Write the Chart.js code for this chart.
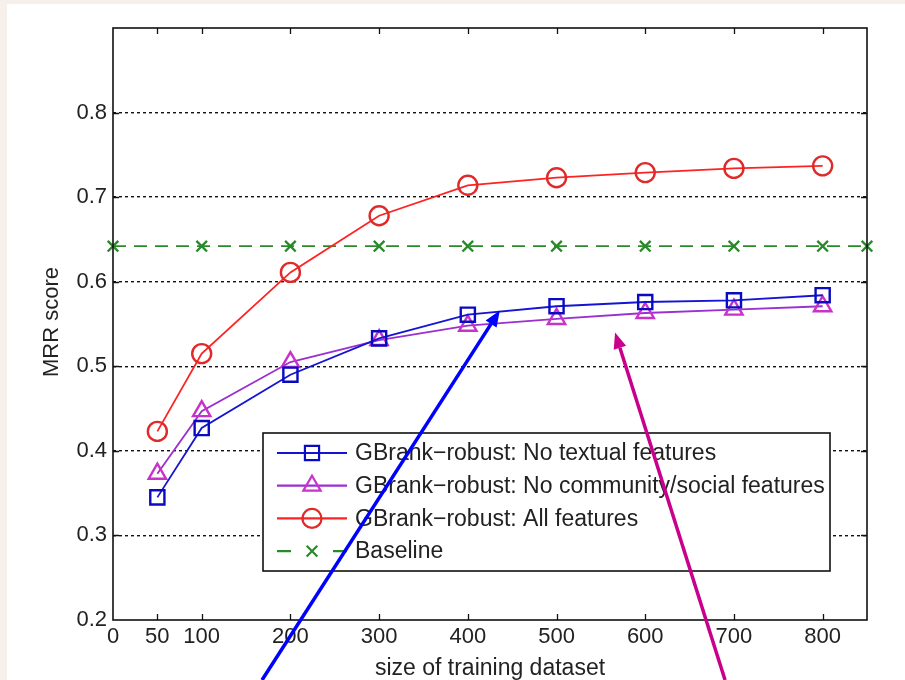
<!DOCTYPE html>
<html>
<head>
<meta charset="utf-8">
<script src="https://cdn.jsdelivr.net/npm/chart.js@4"></script>
<style>
  html, body { margin: 0; padding: 0; background: #f6efea; }
  canvas { display: block; }
</style>
</head>
<body>
<canvas id="mrrChart" width="905" height="680"></canvas>
<script>
// Data
const trainingSizes = [50, 100, 200, 300, 400, 500, 600, 700, 800];
const noTextual = [0.345, 0.427, 0.490, 0.533, 0.561, 0.571, 0.576, 0.578, 0.584];
const noCommunity = [0.373, 0.447, 0.505, 0.531, 0.548, 0.556, 0.563, 0.567, 0.571];
const allFeatures = [0.423, 0.515, 0.611, 0.678, 0.714, 0.723, 0.729, 0.734, 0.737];
const baselineSizes = [0, 100, 200, 300, 400, 500, 600, 700, 800, 850];
const baselineScores = [0.642, 0.642, 0.642, 0.642, 0.642, 0.642, 0.642, 0.642, 0.642, 0.642];
const xTickValues = [0, 50, 100, 200, 300, 400, 500, 600, 700, 800];
const yTickValues = [0.2, 0.3, 0.4, 0.5, 0.6, 0.7, 0.8];

const toPoints = (xs, ys) => xs.map((x, i) => ({ x: x, y: ys[i] }));

const series = [
    { label: 'GBrank\u2212robust: No textual features', data: toPoints(trainingSizes, noTextual),
      line: '#1414d2', marker: '#0a0ac0', style: 'rect', radius: 10, dash: [] },
    { label: 'GBrank\u2212robust: No community/social features', data: toPoints(trainingSizes, noCommunity),
      line: '#9b2fd0', marker: '#c832c8', style: 'triangle', radius: 10, dash: [] },
    { label: 'GBrank\u2212robust: All features', data: toPoints(trainingSizes, allFeatures),
      line: '#ff2222', marker: '#e02a2a', style: 'circle', radius: 9.5, dash: [] },
    { label: 'Baseline', data: toPoints(baselineSizes, baselineScores),
      line: '#2a8a2a', marker: '#2a8a2a', style: 'crossRot', radius: 7.5, dash: [13, 8] }
];

// Arrows pointing at the curves, given in data units
const arrows = [
    { from: [168, 0.129], to: [436, 0.566], color: '#0000ff' },
    { from: [690, 0.129], to: [566, 0.540], color: '#c8008c' }
];

const FONT = '"Liberation Sans", Arial, sans-serif';
const TEXT = '#222';

const framePlugin = {
    id: 'frame',
    beforeDraw(chart) {
        const ctx = chart.ctx;
        ctx.save();
        ctx.fillStyle = '#f6efea';
        ctx.fillRect(0, 0, chart.width, chart.height);
        ctx.fillStyle = '#ffffff';
        ctx.fillRect(7, 4, chart.width - 7, chart.height - 4);
        ctx.restore();
    },
    afterDatasetsDraw(chart) {
        const { ctx, chartArea: a, scales } = chart;
        ctx.save();
        // box and inward ticks
        ctx.strokeStyle = '#111';
        ctx.lineWidth = 1.6;
        ctx.strokeRect(a.left, a.top, a.right - a.left, a.bottom - a.top);
        ctx.lineWidth = 1.3;
        ctx.beginPath();
        xTickValues.slice(1).forEach(v => {
            const px = Math.round(scales.x.getPixelForValue(v)) + 0.5;
            ctx.moveTo(px, a.bottom); ctx.lineTo(px, a.bottom - 6);
            ctx.moveTo(px, a.top); ctx.lineTo(px, a.top + 6);
        });
        yTickValues.slice(1).forEach(v => {
            const py = Math.round(scales.y.getPixelForValue(v)) + 0.5;
            ctx.moveTo(a.left, py); ctx.lineTo(a.left + 6, py);
            ctx.moveTo(a.right, py); ctx.lineTo(a.right - 6, py);
        });
        ctx.stroke();

        // axis titles
        ctx.fillStyle = TEXT;
        ctx.font = '23px ' + FONT;
        ctx.textAlign = 'center';
        ctx.textBaseline = 'alphabetic';
        ctx.fillText('size of training dataset', (a.left + a.right) / 2, 675);
        ctx.save();
        ctx.translate(52, 322);
        ctx.rotate(-Math.PI / 2);
        ctx.font = '22px ' + FONT;
        ctx.textBaseline = 'middle';
        ctx.fillText('MRR score', 0, 0);
        ctx.restore();

        // legend
        const box = { left: 263, top: 433, right: 830, bottom: 571 };
        ctx.fillStyle = '#fff';
        ctx.fillRect(box.left, box.top, box.right - box.left, box.bottom - box.top);
        ctx.strokeStyle = '#111';
        ctx.lineWidth = 1.6;
        ctx.strokeRect(box.left, box.top, box.right - box.left, box.bottom - box.top);
        ctx.font = '23px ' + FONT;
        ctx.textAlign = 'left';
        ctx.textBaseline = 'middle';
        series.forEach((s, i) => {
            const y = box.top + 20 + i * 32.7;
            ctx.strokeStyle = s.line;
            ctx.lineWidth = 2.2;
            ctx.setLineDash(s.dash.length ? [14, 42] : []);
            ctx.beginPath();
            ctx.moveTo(277, y); ctx.lineTo(347, y);
            ctx.stroke();
            ctx.setLineDash([]);
            ctx.strokeStyle = s.marker;
            ctx.fillStyle = 'rgba(255,255,255,0)';
            Chart.helpers.drawPoint(ctx, { pointStyle: s.style, radius: s.radius, borderWidth: 2.4, rotation: 0 }, 312, y);
            ctx.fillStyle = TEXT;
            ctx.fillText(s.label, 355, y + 1);
        });

        // arrows
        arrows.forEach(ar => {
            const x1 = scales.x.getPixelForValue(ar.from[0]), y1 = scales.y.getPixelForValue(ar.from[1]);
            const x2 = scales.x.getPixelForValue(ar.to[0]), y2 = scales.y.getPixelForValue(ar.to[1]);
            const ang = Math.atan2(y2 - y1, x2 - x1);
            const head = 16, half = 6.5;
            const bx = x2 - head * Math.cos(ang), by = y2 - head * Math.sin(ang);
            ctx.strokeStyle = ar.color;
            ctx.fillStyle = ar.color;
            ctx.lineWidth = 3.5;
            ctx.beginPath();
            ctx.moveTo(x1, y1); ctx.lineTo(bx, by);
            ctx.stroke();
            ctx.beginPath();
            ctx.moveTo(x2, y2);
            ctx.lineTo(bx + half * Math.sin(ang), by - half * Math.cos(ang));
            ctx.lineTo(bx - half * Math.sin(ang), by + half * Math.cos(ang));
            ctx.closePath();
            ctx.fill();
        });
        ctx.restore();
    }
};

new Chart(document.getElementById('mrrChart'), {
    type: 'line',
    data: {
        datasets: series.map(s => ({
            label: s.label,
            data: s.data,
            borderColor: s.line,
            borderWidth: 1.8,
            borderDash: s.dash,
            pointStyle: s.style,
            pointRadius: s.radius,
            pointBorderColor: s.marker,
            pointBackgroundColor: 'rgba(255,255,255,0)',
            pointBorderWidth: 2.4,
            tension: 0,
            clip: false
        }))
    },
    options: {
        responsive: false,
        animation: false,
        layout: { padding: { top: 28, right: 38, left: 0, bottom: 0 } },
        plugins: { legend: { display: false }, tooltip: { enabled: false } },
        scales: {
            x: {
                type: 'linear',
                min: 0,
                max: 850,
                afterBuildTicks: scale => { scale.ticks = xTickValues.map(v => ({ value: v })); },
                afterFit: scale => { scale.height = 60; },
                grid: { display: false, drawTicks: false },
                border: { display: false },
                ticks: { color: TEXT, font: { family: FONT, size: 22 }, padding: 4, maxRotation: 0, autoSkip: false }
            },
            y: {
                min: 0.2,
                max: 0.9,
                afterBuildTicks: scale => { scale.ticks = yTickValues.concat([0.9]).map(v => ({ value: v })); },
                afterFit: scale => { scale.width = 113; },
                grid: {
                    drawTicks: false,
                    color: c => (c.tick && c.tick.value > 0.25 && c.tick.value < 0.85) ? '#111' : 'rgba(0,0,0,0)',
                    lineWidth: 1.4
                },
                border: { display: false, dash: [3, 3] },
                ticks: {
                    color: TEXT,
                    font: { family: FONT, size: 22 },
                    padding: 6,
                    callback: v => v > 0.85 ? '' : v.toFixed(1)
                }
            }
        }
    },
    plugins: [framePlugin]
});
</script>
</body>
</html>
